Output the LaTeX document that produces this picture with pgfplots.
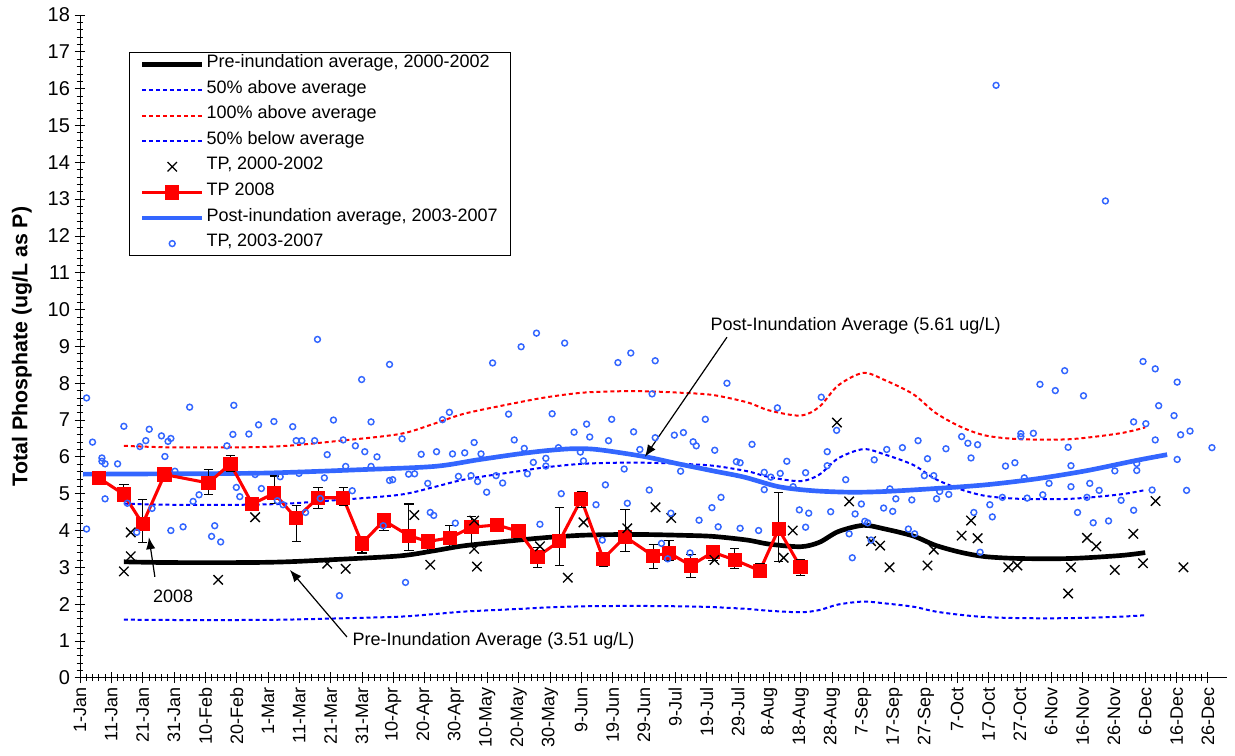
\documentclass[border=0pt]{standalone}
\usepackage{fontspec}
\setmainfont{Liberation Sans}
\usepackage{pgfplots}
\pgfplotsset{compat=1.18}
\usepackage{pgfplotstable}
\usetikzlibrary{arrows.meta,calc}

\definecolor{postblue}{RGB}{51,102,255}
\definecolor{dblue}{RGB}{0,0,255}
\definecolor{dred}{RGB}{255,0,0}

\pgfplotstableread{
d pre up50 up100 dn50
15 3.15 4.73 6.30 1.58
29 3.13 4.70 6.26 1.57
54 3.13 4.70 6.26 1.57
67 3.15 4.73 6.30 1.58
82 3.21 4.82 6.42 1.61
103 3.31 4.97 6.62 1.66
114 3.45 5.18 6.90 1.73
124 3.59 5.39 7.18 1.80
141 3.74 5.61 7.48 1.87
150 3.81 5.72 7.62 1.91
161 3.87 5.81 7.74 1.94
172 3.89 5.84 7.78 1.95
182 3.89 5.84 7.78 1.95
193 3.87 5.81 7.74 1.94
203 3.84 5.76 7.68 1.92
214 3.74 5.61 7.48 1.87
221 3.63 5.45 7.26 1.82
231 3.56 5.34 7.12 1.78
237 3.68 5.52 7.36 1.84
243 3.97 5.96 7.94 1.99
251 4.14 6.21 8.28 2.07
258 4.04 6.06 8.08 2.02
267 3.85 5.78 7.70 1.93
274 3.60 5.40 7.20 1.80
282 3.41 5.12 6.82 1.71
290 3.29 4.94 6.58 1.65
301 3.24 4.86 6.48 1.62
317 3.24 4.86 6.48 1.62
333 3.32 4.98 6.64 1.66
341 3.40 5.10 6.80 1.70
}\pretable

\pgfplotstableread{
d v
2 5.53
30 5.54
60 5.56
90 5.65
114 5.74
128 5.92
141 6.08
150 6.17
158 6.22
166 6.20
181 6.01
192 5.81
203 5.62
213 5.45
224 5.19
235 5.08
247 5.04
258 5.06
274 5.14
290 5.24
306 5.40
322 5.62
338 5.90
348 6.06
}\posttable

\pgfplotstableread{
d v ep em
7 5.43 0.17 0.19
15 4.98 0.27 0.17
21 4.18 0.65 0.50
28 5.52 0.05 0.05
42 5.29 0.37 0.32
49 5.81 0.23 0.20
56 4.72 0.05 0.05
63 5.01 0.47 0.27
70 4.33 0.35 0.62
77 4.89 0.28 0.30
85 4.89 0.27 0.22
91 3.65 0.16 0.26
98 4.27 0.13 0.27
106 3.86 0.86 0.41
112 3.70 0.16 0.25
119 3.80 0.33 0.26
126 4.09 0.29 0.46
134 4.15 0.05 0.05
141 3.98 0.19 0.14
147 3.29 0.25 0.29
154 3.71 0.92 0.65
161 4.85 0.21 0.22
168 3.23 0.16 0.20
175 3.83 0.74 0.40
184 3.31 0.32 0.34
189 3.39 0.35 0.21
196 3.05 0.31 0.32
203 3.41 0.18 0.23
210 3.20 0.30 0.24
218 2.91 0.18 0.16
224 4.04 1.00 0.88
231 3.00 0.21 0.23
}\tptable

\pgfplotstableread{
d v
15.0 2.89
17.2 3.30
17.2 3.95
45.1 2.66
56.9 4.36
79.9 3.10
85.8 2.96
107.7 4.42
112.8 3.07
126.8 4.27
126.8 3.50
127.7 3.02
147.8 3.57
156.7 2.72
161.7 4.22
175.7 4.06
184.7 4.63
189.7 4.34
203.5 3.20
225.6 3.26
228.5 4.00
242.6 6.93
246.5 4.79
253.5 3.71
256.4 3.59
259.4 3.00
271.5 3.05
273.5 3.48
282.4 3.86
285.4 4.27
287.5 3.79
297.3 3.00
300.2 3.05
316.4 2.29
317.3 3.00
322.4 3.80
325.4 3.57
331.3 2.93
337.2 3.91
340.3 3.11
344.3 4.80
353.2 3.00
}\xtable

\pgfplotstableread{
d v
3.1 7.60
5.0 6.40
8.0 5.97
8.0 5.88
3.1 4.04
9.0 5.81
13.0 5.81
9.0 4.86
15.0 6.83
16.1 4.74
19.1 3.95
20.1 6.28
22.0 6.44
23.1 6.75
24.0 4.60
27.0 6.57
28.1 6.01
29.1 6.42
30.0 6.50
30.0 4.00
31.3 5.61
33.9 4.10
36.0 7.35
37.1 4.79
39.0 4.97
43.0 3.84
44.0 4.13
45.9 3.69
47.9 6.30
49.8 6.61
50.1 7.40
50.9 5.17
52.0 4.92
54.9 6.62
56.9 5.52
58.0 6.87
58.9 5.14
62.9 6.96
64.0 4.81
64.9 5.46
65.8 4.70
68.9 6.82
70.0 6.44
71.8 6.44
70.9 5.55
73.0 4.49
75.9 6.44
77.7 4.87
79.0 5.43
79.9 6.06
81.9 7.00
83.8 2.23
85.0 6.46
85.8 5.74
87.9 5.08
88.9 6.30
90.9 8.10
91.9 6.14
93.9 6.95
93.9 5.74
95.8 6.00
97.8 4.13
99.8 5.36
100.8 5.38
103.8 6.49
104.9 2.59
105.9 5.53
107.8 5.54
109.9 6.07
112.0 5.28
112.8 4.49
113.9 4.41
114.8 6.14
116.7 7.01
118.9 7.21
119.9 6.08
120.8 4.20
121.8 5.47
123.8 6.11
125.8 5.49
126.8 6.39
127.9 5.33
129.0 6.08
130.8 5.04
133.8 5.49
135.9 5.29
137.8 7.16
139.6 6.46
76.8 9.19
99.8 8.51
132.7 8.55
141.8 8.99
142.8 6.23
143.8 5.54
145.7 5.85
146.7 9.36
147.8 4.17
149.7 5.96
149.7 5.75
151.7 7.17
153.7 6.25
154.6 5.00
155.7 9.09
158.7 6.67
160.7 6.13
161.7 5.89
162.7 6.89
163.7 6.54
165.7 4.70
167.7 3.74
168.7 5.24
169.7 6.44
170.7 7.02
172.7 8.56
174.7 5.67
175.7 4.74
176.8 8.82
177.7 6.68
179.7 6.20
182.7 5.10
183.6 7.71
184.6 8.61
184.6 6.52
186.6 3.65
188.6 3.23
189.6 4.47
190.7 6.59
192.7 5.61
193.6 6.66
195.7 3.39
196.7 6.41
197.7 6.30
198.6 4.28
200.6 7.02
202.7 4.62
203.6 6.18
204.7 4.10
205.6 4.90
207.5 8.00
210.5 5.87
211.7 5.84
211.7 4.06
215.5 6.34
217.6 4.00
219.4 5.58
219.4 5.11
221.5 5.45
223.6 7.33
224.5 5.55
226.6 5.88
228.6 5.19
230.6 4.56
232.6 5.57
232.6 4.09
233.6 4.47
237.6 7.62
239.5 6.14
239.5 5.76
240.6 4.51
242.5 6.72
245.4 5.38
246.5 3.91
247.5 3.26
248.4 4.45
250.4 4.72
251.5 4.25
252.4 4.21
254.5 5.92
257.5 4.61
258.5 6.20
260.4 4.52
261.4 4.86
253.5 3.74
259.5 5.13
263.5 6.25
265.4 4.04
266.5 4.83
267.4 3.91
268.5 6.44
270.5 5.49
271.5 5.95
273.5 5.49
274.4 4.86
275.4 5.06
277.4 6.22
278.3 4.98
282.4 6.55
284.4 6.37
285.4 5.97
286.3 4.49
287.5 6.33
288.3 3.41
291.4 4.70
292.2 4.37
295.4 4.90
296.4 5.75
299.4 5.84
301.3 6.63
301.3 6.55
302.4 5.43
303.3 4.88
305.3 6.64
307.4 7.97
308.3 4.97
310.3 5.28
312.3 7.80
315.3 8.34
316.4 6.26
317.3 5.76
317.3 5.19
319.4 4.49
321.3 7.66
322.4 4.90
323.3 5.28
324.4 4.21
326.3 5.09
329.3 4.26
331.3 5.62
333.3 4.82
337.3 6.95
337.3 4.55
338.3 5.82
338.3 5.63
340.3 8.59
341.2 6.90
343.2 5.10
344.2 8.39
344.2 6.46
345.3 7.39
350.2 7.12
351.2 8.03
351.2 5.93
352.3 6.60
354.2 5.09
355.3 6.70
362.3 6.25
293.4 16.09
328.3 12.95
}\circtable

\begin{document}
\begin{tikzpicture}
\begin{axis}[
  scale only axis,
  width=860pt, height=497.1pt,
  xmin=1, xmax=367, ymin=0, ymax=18,
  axis lines=left,
  axis line style={-, black, line width=0.6pt},
  xtick={1,11,...,361},
  xticklabels={1-Jan,11-Jan,21-Jan,31-Jan,10-Feb,20-Feb,1-Mar,11-Mar,21-Mar,31-Mar,10-Apr,20-Apr,30-Apr,10-May,20-May,30-May,9-Jun,19-Jun,29-Jun,9-Jul,19-Jul,29-Jul,8-Aug,18-Aug,28-Aug,7-Sep,17-Sep,27-Sep,7-Oct,17-Oct,27-Oct,6-Nov,16-Nov,26-Nov,6-Dec,16-Dec,26-Dec},
  minor x tick num=4,
  ytick={0,1,...,18},
  minor y tick num=4,
  tick align=center,
  major tick length=8pt,
  minor tick length=5pt,
  tick style={black, line width=0.6pt},
  /pgf/number format/assume math mode=true,
  x tick label style={rotate=90, anchor=east, font=\fontsize{13.5}{16}\selectfont},
  y tick label style={font=\fontsize{15}{18}\selectfont},
  ylabel={Total Phosphate (ug/L as P)},
  every axis y label/.style={at={(axis description cs:-0.0506,0.5)}, anchor=center, rotate=90,
    font=\bfseries\fontsize{16}{19}\selectfont},
  legend image code/.code={\draw[mark repeat=2,mark phase=2,#1] plot coordinates {(0pt,0pt) (22.5pt,0pt) (45pt,0pt)};},
  legend cell align=left,
  legend style={at={(0.0427,0.9437)}, anchor=north west, draw=black,
    font=\fontsize{13.5}{16}\selectfont, row sep=6.5pt, inner xsep=8pt, inner ysep=2.5pt,
    nodes={inner sep=1.5pt, text height=0.72em, text depth=0.25em}},
]
\addlegendimage{black, line width=3.5pt}
\addlegendentry{Pre-inundation average, 2000-2002}
\addlegendimage{dblue, line width=1.5pt, dash pattern=on 3pt off 2.2pt}
\addlegendentry{50\% above average}
\addlegendimage{dred, line width=1.5pt, dash pattern=on 3pt off 2.2pt}
\addlegendentry{100\% above average}
\addlegendimage{dblue, line width=1.5pt, dash pattern=on 3pt off 2.2pt}
\addlegendentry{50\% below average}
\addlegendimage{only marks, mark=x, mark size=5pt, black, mark options={line width=1pt}}
\addlegendentry{TP, 2000-2002}
\addlegendimage{dred, line width=2.3pt, mark=square*, mark size=4.2pt, mark options={solid, dred}}
\addlegendentry{TP 2008}
\addlegendimage{postblue, line width=3.5pt}
\addlegendentry{Post-inundation average, 2003-2007}
\addlegendimage{only marks, mark=o, mark size=2.2pt, postblue, mark options={line width=1.1pt}}
\addlegendentry{TP, 2003-2007}

\addplot[forget plot, dblue, line width=1.5pt, dash pattern=on 3pt off 2.2pt, smooth] table[x=d, y=up50] {\pretable};
\addplot[forget plot, dred, line width=1.5pt, dash pattern=on 3pt off 2.2pt, smooth] table[x=d, y=up100] {\pretable};
\addplot[forget plot, dblue, line width=1.5pt, dash pattern=on 3pt off 2.2pt, smooth] table[x=d, y=dn50] {\pretable};
\addplot[forget plot, black, line width=3.5pt, smooth] table[x=d, y=pre] {\pretable};
\addplot[forget plot, postblue, line width=3.5pt, smooth] table[x=d, y=v] {\posttable};
\addplot[forget plot, dred, line width=2.3pt, mark=square*, mark size=4.2pt, mark options={solid, dred},
  error bars/.cd, y dir=both, y explicit,
  error bar style={black, line width=0.8pt},
  error mark options={rotate=90, black, mark size=3.5pt, line width=0.8pt}]
  table[x=d, y=v, y error plus=ep, y error minus=em] {\tptable};
\addplot[forget plot, only marks, mark=x, mark size=5pt, black, mark options={line width=1pt}] table[x=d, y=v] {\xtable};
\addplot[forget plot, only marks, mark=o, mark size=2.2pt, postblue, mark options={line width=1.1pt}] table[x=d, y=v] {\circtable};

\node[anchor=west, font=\fontsize{13.5}{16}\selectfont] at (axis cs:200.8,9.55) {Post-Inundation Average (5.61 ug/L)};
\draw[line width=0.9pt, -{Latex[length=9pt, width=7pt]}] (axis cs:207.5,9.25) -- (axis cs:181.3,6.0);
\node[anchor=west, font=\fontsize{13.5}{16}\selectfont] at (axis cs:86.5,1.0) {Pre-Inundation Average (3.51 ug/L)};
\draw[line width=0.9pt, -{Latex[length=9pt, width=7pt]}] (axis cs:86.2,1.11) -- (axis cs:68,2.93);
\node[font=\fontsize{13.5}{16}\selectfont] at (axis cs:30.7,2.22) {2008};
\draw[line width=0.9pt, -{Latex[length=9pt, width=7pt]}] (axis cs:24.9,2.74) -- (axis cs:23,3.82);
\end{axis}
\pgfresetboundingbox
\path (current axis.south west) ++(-60pt,-58.65pt) rectangle ($(current axis.south west)+(866.25pt,508.35pt)$);
\end{tikzpicture}
\end{document}
